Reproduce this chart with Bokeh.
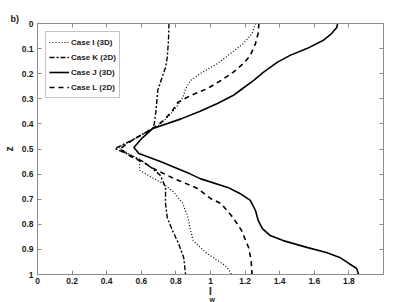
import math
from bokeh.plotting import figure
from bokeh.models import (Range1d, LinearAxis, FixedTicker, CustomJSTickFormatter,
                          Legend, LegendItem, Title)
from bokeh.embed import file_html
from bokeh.resources import INLINE

# ---- data ----
z_I = [0, .04, .08, .12, .16, .2, .227, .26, .295, .327, .36, .4, .418, .46, .495, .52, .54,
       .585, .605, .64, .673, .717, .773, .825, .865, .892, .916, .944, .964, .99, 1.0]
x_I = [1.26, 1.24, 1.19, 1.115, 1.04, .94, .885, .856, .84, .81, .77, .713, .667, .56, .47, .53, .59,
       .59, .64, .73, .79, .84, .87, .885, .90, .94, .98, 1.04, 1.085, 1.115, 1.12]

z_K = [0, .07, .135, .175, .215, .267, .347, .4, .418, .46, .498, .52, .546, .575, .605, .653,
       .717, .773, .825, .876, .932, 1.0]
x_K = [.76, .757, .75, .74, .72, .695, .685, .675, .665, .56, .448, .52, .6, .66, .71, .74,
       .74, .75, .78, .815, .845, .856]

z_J = [0, .016, .04, .068, .1, .127, .155, .195, .227, .267, .287, .319, .35, .38, .418, .46, .494,
       .518, .55, .6, .618, .653, .677, .705, .745, .785, .817, .845, .865, .892, .912, .932, .956,
       .976, 1.0]
x_J = [1.735, 1.73, 1.70, 1.65, 1.557, 1.46, 1.385, 1.305, 1.25, 1.17, 1.13, 1.04, .94, .83, .667, .60,
       .557, .586, .71, .885, .94, 1.10, 1.17, 1.23, 1.26, 1.276, 1.30, 1.345, 1.42, 1.557, 1.67, 1.747,
       1.80, 1.845, 1.856]

z_L = [0, .04, .08, .127, .16, .195, .227, .26, .287, .315, .347, .386, .418, .46, .5, .53, .554,
       .578, .618, .657, .697, .717, .773, .825, .892, .944, 1.0]
x_L = [1.28, 1.275, 1.26, 1.23, 1.19, 1.13, 1.06, .98, .885, .81, .78, .73, .667, .56, .475, .54, .615,
       .67, .79, .925, 1.0, 1.06, 1.13, 1.18, 1.22, 1.235, 1.24]

series_names = ["Case I (3D)", "Case K (2D)", "Case J (3D)", "Case L (2D)"]
x_ticks = [0, 0.2, 0.4, 0.6, 0.8, 1, 1.2, 1.4, 1.6, 1.8]
y_ticks = [0, 0.1, 0.2, 0.3, 0.4, 0.5, 0.6, 0.7, 0.8, 0.9, 1]

AX = "#8c8c8c"
FONT = "Liberation Sans"
TXT = "#1a1a1a"

p = figure(width=399, height=302, output_backend="svg", toolbar_location=None,
           x_range=Range1d(0, 2), y_range=Range1d(1, 0),
           min_border_left=36, min_border_right=16, min_border_top=23, min_border_bottom=28)
p.grid.visible = False
p.outline_line_color = AX
p.background_fill_color = "white"

# panel title "b)"
p.title.text = "b)"
p.title.align = "left"
p.title.offset = -27
p.title.text_font = FONT
p.title.text_font_style = "bold"
p.title.text_font_size = "9px"
p.title.text_color = TXT
p.title.standoff = 0

fmt = CustomJSTickFormatter(code="return String(Math.round(tick*10)/10);")
blank = CustomJSTickFormatter(code="return '';")

def style(ax, labels=True):
    ax.axis_line_color = AX
    ax.major_tick_line_color = AX
    ax.major_tick_in = 4
    ax.major_tick_out = 0
    ax.minor_tick_line_color = None
    ax.major_label_text_font = FONT
    ax.major_label_text_font_style = "bold"
    ax.major_label_text_color = TXT
    ax.major_label_text_font_size = "8.5px" if labels else "1px"
    ax.formatter = fmt if labels else blank
    ax.axis_label_text_font = FONT
    ax.axis_label_text_font_style = "bold"
    ax.axis_label_text_color = TXT
    if not labels:
        ax.major_label_standoff = 0

p.xaxis.ticker = FixedTicker(ticks=x_ticks)
p.yaxis.ticker = FixedTicker(ticks=y_ticks)
style(p.xaxis[0]); style(p.yaxis[0])
p.xaxis.major_label_standoff = 3
p.yaxis.major_label_standoff = 4

p.yaxis.axis_label = "z"
p.yaxis.axis_label_text_font_size = "10px"
p.yaxis.axis_label_standoff = 4

p.xaxis.axis_label = "I"
p.xaxis.axis_label_text_font_size = "10px"
p.xaxis.axis_label_standoff = -1

# subscript "w" of the x-axis label
p.add_layout(Title(text="w", align="left", offset=172, vertical_align="top", standoff=-8,
                   text_font=FONT, text_font_style="bold", text_font_size="7px",
                   text_color=TXT), "below")

top = LinearAxis(ticker=FixedTicker(ticks=x_ticks))
style(top, labels=False)
p.add_layout(top, "above")
right = LinearAxis(ticker=FixedTicker(ticks=y_ticks))
style(right, labels=False)
p.add_layout(right, "right")

rI = p.line(x_I, z_I, line_color="black", line_width=1.2, line_dash="1 2")
rK = p.line(x_K, z_K, line_color="black", line_width=1.4, line_dash="5 2 2 2")
rJ = p.line(x_J, z_J, line_color="black", line_width=1.6)
rL = p.line(x_L, z_L, line_color="black", line_width=1.6, line_dash="5 4")

legend = Legend(items=[LegendItem(label=n, renderers=[r]) for n, r in
                       zip(series_names, [rI, rK, rJ, rL])],
                location="top_left", margin=8, padding=3, spacing=1,
                glyph_width=20, glyph_height=14, label_height=14, label_standoff=2,
                label_text_font=FONT, label_text_font_style="bold",
                label_text_font_size="8px", label_text_color=TXT,
                border_line_color=AX, border_line_width=1,
                background_fill_color="white", background_fill_alpha=1)
p.add_layout(legend, "center")

open("out.html", "w").write(file_html(p, INLINE))
